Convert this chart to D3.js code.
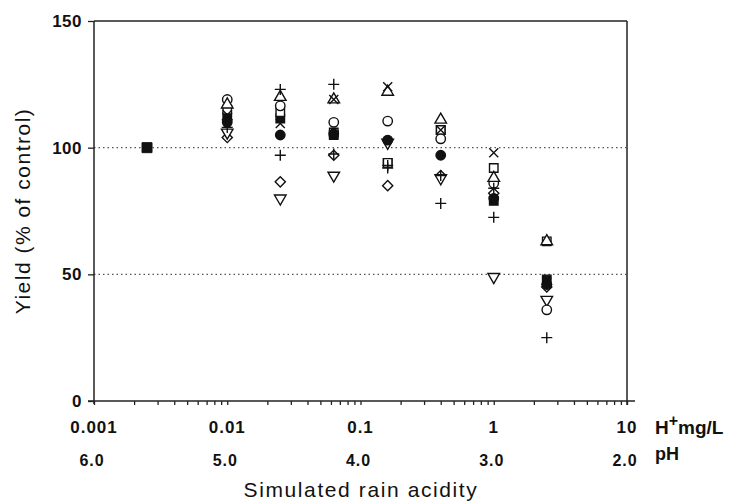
<!DOCTYPE html>
<html>
<head>
<meta charset="utf-8">
<script src="https://cdn.jsdelivr.net/npm/d3@7"></script>
<style>
  body { margin: 0; background: #fff; }
  text { font-family: "Liberation Sans", Arial, sans-serif; fill: #111; }
</style>
</head>
<body>
<script>
// H+ concentration (mg/L) of each treatment column
const hPlus = [0.01, 0.025, 0.063, 0.16, 0.4, 1.0, 2.5];
const controlH = [0.0025];
const controlYield = [100];

// yield (% of control) per series
const openCircle   = [119, 116.5, 110, 110.5, 103.5, 86, 36];
const filledCircle = [110, 105, 105.5, 103, 97, 80, 46];
const openTriangle = [117, 120, 119, 122, 111, 88, 63];
const invTriangle  = [106, 80, 89, 102, 88, 49, 40];
const openSquare   = [115, 114, 106, 94, 107, 92, 63];
const filledSquare = [112, 111.5, 105, 94, 107, 79, 48];
const diamond      = [104, 86.5, 97, 85, 89, 82, 45];
const cross        = [113, 109.5, 119, 124, 107, 98, 47];
const plus         = [111, 123, 125, 92, 78, 72.5, 25];
const plus2        = [108, 97, 97.5, 93, 89, 84, 46];

const xTicks = [0.001, 0.01, 0.1, 1, 10];
const xTickLabels = ["0.001", "0.01", "0.1", "1", "10"];
const pHLabels = ["6.0", "5.0", "4.0", "3.0", "2.0"];
const yTicks = [0, 50, 100, 150];
const refLines = [100, 50];

const width = 744, height = 501;
const svg = d3.select("body").append("svg").attr("width", width).attr("height", height);

const x = d3.scaleLog().domain([0.001, 10]).range([94, 627]);
const y = d3.scaleLinear().domain([0, 150]).range([401, 21]);

// frame
svg.append("line").attr("x1", x(0.001)).attr("x2", x(10)).attr("y1", y(150)).attr("y2", y(150))
  .attr("stroke", "#222").attr("stroke-width", 1.5);
svg.append("line").attr("x1", x(10)).attr("x2", x(10)).attr("y1", y(150)).attr("y2", y(0) + 4)
  .attr("stroke", "#222").attr("stroke-width", 1.5);

// dotted reference lines
svg.selectAll(".ref").data(refLines).enter().append("line").attr("class", "ref")
  .attr("x1", x(0.001)).attr("x2", x(10))
  .attr("y1", d => y(d)).attr("y2", d => y(d))
  .attr("stroke", "#555").attr("stroke-width", 1.4).attr("stroke-dasharray", "1.5,3");

// x axis with minor ticks
const allTicks = [];
xTicks.slice(0, -1).forEach(function(d){
  for (let k = 1; k < 10; k++) allTicks.push(d * k);
});
allTicks.push(10);
const xAxis = d3.axisBottom(x).tickValues(allTicks).tickSize(4).tickFormat("");
const gx = svg.append("g").attr("transform", "translate(0," + y(0) + ")").call(xAxis);
gx.select(".domain").attr("d", "M" + (x(0.001) - 6) + ",0H" + (x(10) + 8)).attr("stroke", "#222").attr("stroke-width", 1.5);
gx.selectAll(".tick line").attr("stroke", "#222").attr("stroke-width", 1.3);

svg.append("g").selectAll("text").data(xTicks).enter().append("text")
  .attr("x", d => x(d)).attr("y", 433).attr("text-anchor", "middle")
  .attr("font-size", 17).attr("font-weight", "bold").attr("letter-spacing", 1)
  .text((d, i) => xTickLabels[i]);
svg.append("g").selectAll("text").data(xTicks).enter().append("text")
  .attr("x", d => x(d) - 2).attr("y", 466).attr("text-anchor", "middle")
  .attr("font-size", 16).attr("font-weight", "bold").attr("letter-spacing", 1)
  .text((d, i) => pHLabels[i]);

const hLab = svg.append("text").attr("x", 655).attr("y", 434).attr("font-size", 19).attr("font-weight", "bold");
hLab.append("tspan").text("H");
hLab.append("tspan").attr("dy", -8).attr("font-size", 16).text("+");
hLab.append("tspan").attr("dy", 8).text("mg/L");
svg.append("text").attr("x", 655).attr("y", 460).attr("font-size", 18).attr("font-weight", "bold").text("pH");

svg.append("text").attr("x", 361).attr("y", 497).attr("text-anchor", "middle")
  .attr("font-size", 21).attr("letter-spacing", 1.6).text("Simulated rain acidity");

// y axis
const yAxis = d3.axisLeft(y).tickValues(yTicks).tickSize(6).tickPadding(6);
const gy = svg.append("g").attr("transform", "translate(" + x(0.001) + ",0)").call(yAxis);
gy.select(".domain").attr("d", "M0," + (y(0) + 3) + "V" + y(150)).attr("stroke", "#222").attr("stroke-width", 1.5);
gy.selectAll(".tick line").attr("stroke", "#222").attr("stroke-width", 1.3);
gy.selectAll(".tick text").attr("font-size", 17).attr("font-weight", "bold").attr("fill", "#111")
  .attr("font-family", "Liberation Sans, Arial, sans-serif").attr("letter-spacing", 0.5);

svg.append("text").attr("transform", "translate(30," + y(75) + ") rotate(-90)")
  .attr("text-anchor", "middle").attr("font-size", 21).attr("letter-spacing", 1.5)
  .text("Yield (% of control)");

// markers
const sym = d3.symbol();
const shapes = {
  circle:  { d: sym.type(d3.symbolCircle).size(70)(), fill: "#fff", rot: 0 },
  fcircle: { d: sym.type(d3.symbolCircle).size(70)(), fill: "#111", rot: 0 },
  tri:     { d: sym.type(d3.symbolTriangle).size(58)(), fill: "#fff", rot: 0 },
  itri:    { d: sym.type(d3.symbolTriangle).size(58)(), fill: "#fff", rot: 180 },
  square:  { d: sym.type(d3.symbolSquare).size(72)(), fill: "#fff", rot: 0 },
  fsquare: { d: sym.type(d3.symbolSquare).size(72)(), fill: "#111", rot: 0 },
  diamond: { d: sym.type(d3.symbolSquare).size(52)(), fill: "#fff", rot: 45 },
  cross:   { d: "M-4.5,-4.5L4.5,4.5M-4.5,4.5L4.5,-4.5", fill: "none", rot: 0 },
  plus:    { d: "M-5.5,0H5.5M0,-5.5V5.5", fill: "none", rot: 0 }
};

// drawing order matters where marks overlap
const series = [
  { vals: filledSquare, shape: "fsquare" },
  { vals: diamond, shape: "diamond" },
  { vals: invTriangle, shape: "itri" },
  { vals: openSquare, shape: "square" },
  { vals: openCircle, shape: "circle" },
  { vals: openTriangle, shape: "tri" },
  { vals: filledCircle, shape: "fcircle" },
  { vals: cross, shape: "cross" },
  { vals: plus, shape: "plus" },
  { vals: plus2, shape: "plus" }
];

const pts = svg.append("g");
series.forEach(function(s){
  const sh = shapes[s.shape];
  pts.selectAll(null).data(s.vals).enter().append("path")
    .attr("d", sh.d)
    .attr("transform", (d, i) => "translate(" + x(hPlus[i]) + "," + y(d) + ") rotate(" + sh.rot + ")")
    .attr("fill", sh.fill).attr("stroke", "#111").attr("stroke-width", 1.4);
});

pts.selectAll(null).data(controlYield).enter().append("path")
  .attr("d", sym.type(d3.symbolSquare).size(100)())
  .attr("transform", (d, i) => "translate(" + x(controlH[i]) + "," + y(d) + ")")
  .attr("fill", "#111").attr("stroke", "#111");
</script>
</body>
</html>
